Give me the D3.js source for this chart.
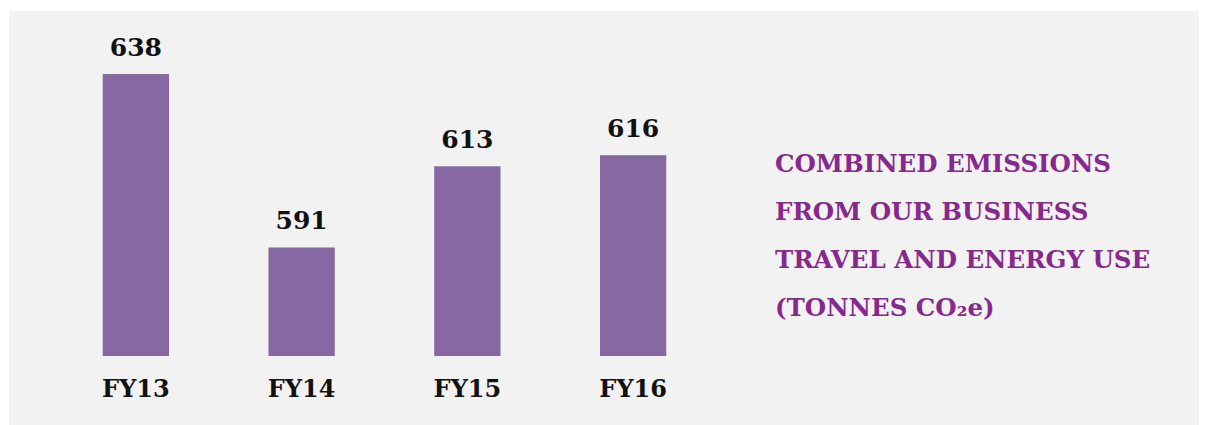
<!DOCTYPE html>
<html>
<head>
<meta charset="utf-8">
<script src="https://cdn.jsdelivr.net/npm/d3@7"></script>
<style>
  html, body { margin: 0; padding: 0; background: #ffffff; }
  svg { display: block; }
</style>
</head>
<body>
<svg id="chart" width="1208" height="425"></svg>
<script>
// chart data
const categories = ['FY13', 'FY14', 'FY15', 'FY16'];
const emissions = [638, 591, 613, 616];
const titleLines = ['COMBINED EMISSIONS', 'FROM OUR BUSINESS', 'TRAVEL AND ENERGY USE', '(TONNES CO\u2082e)'];

const data = categories.map((c, i) => ({ id: c, value: emissions[i] }));

const svg = d3.select('#chart');
const serif = '"DejaVu Serif", "Liberation Serif", serif';

// grey panel
svg.append('rect')
  .attr('x', 9).attr('y', 11)
  .attr('width', 1190).attr('height', 414)
  .attr('fill', '#f2f2f2');

const xScale = d3.scaleBand()
  .domain(categories)
  .range([53, 716])
  .paddingInner(0.6)
  .paddingOuter(0.3);

// axis does not start at zero in the original
const yScale = d3.scaleLinear()
  .domain([561.6, 638])
  .range([356, 74]);

svg.selectAll('.bar')
  .data(data)
  .enter()
  .append('rect')
  .classed('bar', true)
  .attr('x', d => xScale(d.id))
  .attr('y', d => yScale(d.value))
  .attr('width', xScale.bandwidth())
  .attr('height', d => 356 - yScale(d.value))
  .attr('fill', '#8668a3');

svg.selectAll('.val')
  .data(data)
  .enter()
  .append('text')
  .classed('val', true)
  .attr('x', d => xScale(d.id) + xScale.bandwidth() / 2)
  .attr('y', d => yScale(d.value) - 18)
  .attr('text-anchor', 'middle')
  .attr('font-family', serif)
  .attr('font-weight', 'bold')
  .attr('font-size', 25)
  .attr('fill', '#111')
  .text(d => d.value);

// category labels via axis
const xAxis = svg.append('g')
  .attr('transform', 'translate(0,356)')
  .call(d3.axisBottom(xScale).tickSize(0).tickPadding(0));
xAxis.select('.domain').remove();
xAxis.selectAll('text')
  .attr('y', 41)
  .attr('dy', 0)
  .attr('font-family', serif)
  .attr('font-weight', 'bold')
  .attr('font-size', 24)
  .attr('fill', '#111');

// title block on the right
svg.append('g')
  .selectAll('text')
  .data(titleLines)
  .enter()
  .append('text')
  .attr('x', 775)
  .attr('y', (d, i) => 172 + i * 48)
  .attr('font-family', serif)
  .attr('font-weight', 'bold')
  .attr('font-size', 24.5)
  .attr('fill', '#86288c')
  .text(d => d);
</script>
</body>
</html>
